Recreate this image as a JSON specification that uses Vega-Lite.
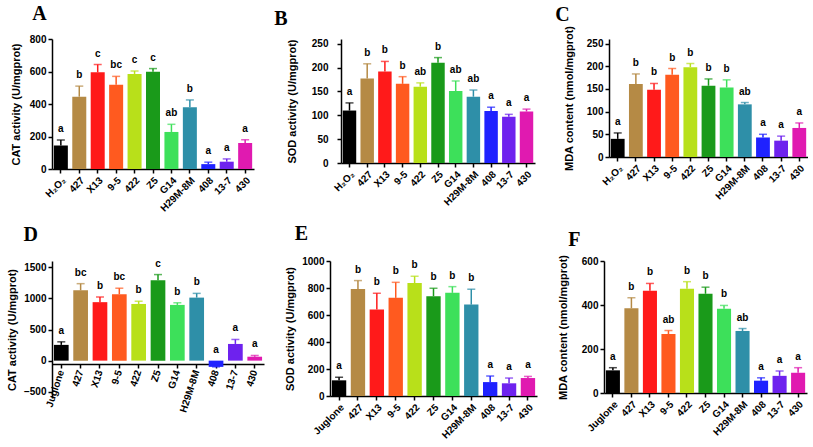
{
"$schema":"https://vega.github.io/schema/vega-lite/v6.json",
"padding":{"left":6,"top":4,"right":0,"bottom":0},
"background":"white",
"data":{"values":[
{"panel":"A","group":"H₂O₂","value":145,"hi":178,"letter":"a"},
{"panel":"A","group":"427","value":445,"hi":510,"letter":"b"},
{"panel":"A","group":"X13","value":595,"hi":643,"letter":"c"},
{"panel":"A","group":"9-5","value":518,"hi":570,"letter":"bc"},
{"panel":"A","group":"422","value":585,"hi":603,"letter":"c"},
{"panel":"A","group":"Z5","value":598,"hi":618,"letter":"c"},
{"panel":"A","group":"G14","value":228,"hi":275,"letter":"ab"},
{"panel":"A","group":"H29M-8M","value":380,"hi":425,"letter":"b"},
{"panel":"A","group":"408","value":30,"hi":42,"letter":"a"},
{"panel":"A","group":"13-7","value":45,"hi":62,"letter":"a"},
{"panel":"A","group":"430","value":160,"hi":180,"letter":"a"},
{"panel":"B","group":"H₂O₂","value":110,"hi":126,"letter":"a"},
{"panel":"B","group":"427","value":177,"hi":208,"letter":"b"},
{"panel":"B","group":"X13","value":192,"hi":213,"letter":"b"},
{"panel":"B","group":"9-5","value":166,"hi":181,"letter":"b"},
{"panel":"B","group":"422","value":160,"hi":168,"letter":"ab"},
{"panel":"B","group":"Z5","value":210,"hi":221,"letter":"b"},
{"panel":"B","group":"G14","value":151,"hi":172,"letter":"ab"},
{"panel":"B","group":"H29M-8M","value":139,"hi":153,"letter":"ab"},
{"panel":"B","group":"408","value":109,"hi":117,"letter":"a"},
{"panel":"B","group":"13-7","value":97,"hi":102,"letter":"a"},
{"panel":"B","group":"430","value":108,"hi":113,"letter":"a"},
{"panel":"C","group":"H₂O₂","value":40,"hi":53,"letter":"a"},
{"panel":"C","group":"427","value":161,"hi":183,"letter":"b"},
{"panel":"C","group":"X13","value":148,"hi":162,"letter":"b"},
{"panel":"C","group":"9-5","value":181,"hi":195,"letter":"b"},
{"panel":"C","group":"422","value":198,"hi":206,"letter":"b"},
{"panel":"C","group":"Z5","value":157,"hi":172,"letter":"b"},
{"panel":"C","group":"G14","value":153,"hi":170,"letter":"b"},
{"panel":"C","group":"H29M-8M","value":116,"hi":120,"letter":"ab"},
{"panel":"C","group":"408","value":43,"hi":50,"letter":"a"},
{"panel":"C","group":"13-7","value":36,"hi":46,"letter":"a"},
{"panel":"C","group":"430","value":64,"hi":75,"letter":"a"},
{"panel":"D","group":"Juglone","value":253,"hi":302,"letter":"a"},
{"panel":"D","group":"427","value":1129,"hi":1236,"letter":"bc"},
{"panel":"D","group":"X13","value":939,"hi":1022,"letter":"b"},
{"panel":"D","group":"9-5","value":1066,"hi":1163,"letter":"bc"},
{"panel":"D","group":"422","value":910,"hi":954,"letter":"b"},
{"panel":"D","group":"Z5","value":1290,"hi":1382,"letter":"c"},
{"panel":"D","group":"G14","value":895,"hi":929,"letter":"b"},
{"panel":"D","group":"H29M-8M","value":1012,"hi":1080,"letter":"b"},
{"panel":"D","group":"408","value":-100,"hi":-100,"letter":"a"},
{"panel":"D","group":"13-7","value":268,"hi":340,"letter":"a"},
{"panel":"D","group":"430","value":63,"hi":83,"letter":"a"},
{"panel":"E","group":"Juglone","value":116,"hi":138,"letter":"a"},
{"panel":"E","group":"427","value":793,"hi":855,"letter":"b"},
{"panel":"E","group":"X13","value":640,"hi":761,"letter":"b"},
{"panel":"E","group":"9-5","value":727,"hi":842,"letter":"b"},
{"panel":"E","group":"422","value":837,"hi":887,"letter":"b"},
{"panel":"E","group":"Z5","value":739,"hi":798,"letter":"b"},
{"panel":"E","group":"G14","value":764,"hi":810,"letter":"b"},
{"panel":"E","group":"H29M-8M","value":677,"hi":791,"letter":"b"},
{"panel":"E","group":"408","value":103,"hi":148,"letter":"a"},
{"panel":"E","group":"13-7","value":94,"hi":133,"letter":"a"},
{"panel":"E","group":"430","value":133,"hi":145,"letter":"a"},
{"panel":"F","group":"Juglone","value":103,"hi":115,"letter":"a"},
{"panel":"F","group":"427","value":385,"hi":433,"letter":"b"},
{"panel":"F","group":"X13","value":465,"hi":498,"letter":"b"},
{"panel":"F","group":"9-5","value":268,"hi":284,"letter":"ab"},
{"panel":"F","group":"422","value":474,"hi":506,"letter":"b"},
{"panel":"F","group":"Z5","value":451,"hi":481,"letter":"b"},
{"panel":"F","group":"G14","value":383,"hi":398,"letter":"b"},
{"panel":"F","group":"H29M-8M","value":282,"hi":293,"letter":"ab"},
{"panel":"F","group":"408","value":56,"hi":69,"letter":"a"},
{"panel":"F","group":"13-7","value":78,"hi":100,"letter":"a"},
{"panel":"F","group":"430","value":92,"hi":115,"letter":"a"}
]},
"transform":[{"calculate":"max(datum.hi, 0)","as":"lab"}],
"resolve":{"scale":{"x":"independent","y":"independent"}},
"vconcat":[
{"hconcat":[
{"width":202,"height":130,"title":{"text":"A","dx":22,"offset":10},
 "transform":[{"filter":"datum.panel==='A'"}],
 "encoding":{"x":{"field":"group","type":"nominal","sort":null,"scale":{"paddingInner":0.24,"paddingOuter":0.1},"axis":{"title":null,"labelAngle":-45}},
  "color":{"field":"group","type":"nominal","legend":null,"scale":{"domain":["H₂O₂","Juglone","427","X13","9-5","422","Z5","G14","H29M-8M","408","13-7","430"],"range":["#000000","#000000","#b58a45","#ff1a1a","#ff5a1f","#b8e01a","#1a9a1a","#3de05a","#2e8fa8","#1f22ff","#6e22ee","#e01ab0"]}}},
 "layer":[
  {"mark":{"type":"bar"},"encoding":{"y":{"field":"value","type":"quantitative","scale":{"domain":[0,800]},"axis":{"values":[0,200,400,600,800],"tickCount":5,"labelOverlap":false,"title":"CAT activity (U/mgprot)","titlePadding":8}}}},
  {"mark":{"type":"rule","strokeWidth":1.5},"encoding":{"y":{"field":"value","type":"quantitative"},"y2":{"field":"hi"}}},
  {"mark":{"type":"tick","thickness":1.5,"size":8},"encoding":{"y":{"field":"hi","type":"quantitative"}}},
  {"mark":{"type":"text","baseline":"bottom","dy":-6,"font":"Liberation Sans","fontWeight":"bold","fontSize":10},"encoding":{"y":{"field":"lab","type":"quantitative"},"text":{"field":"letter"},"color":{"value":"#000"}}}
 ]},
{"width":194,"height":124,"title":{"text":"B","dx":-12,"offset":10},
 "transform":[{"filter":"datum.panel==='B'"}],
 "encoding":{"x":{"field":"group","type":"nominal","sort":null,"scale":{"paddingInner":0.24,"paddingOuter":0.1},"axis":{"title":null,"labelAngle":-45}},
  "color":{"field":"group","type":"nominal","legend":null}},
 "layer":[
  {"mark":{"type":"bar"},"encoding":{"y":{"field":"value","type":"quantitative","scale":{"domain":[0,250]},"axis":{"values":[0,50,100,150,200,250],"tickCount":6,"labelOverlap":false,"title":"SOD activity (U/mgprot)","titlePadding":14,"labelPadding":9}}}},
  {"mark":{"type":"rule","strokeWidth":1.5},"encoding":{"y":{"field":"value","type":"quantitative"},"y2":{"field":"hi"}}},
  {"mark":{"type":"tick","thickness":1.5,"size":8},"encoding":{"y":{"field":"hi","type":"quantitative"}}},
  {"mark":{"type":"text","baseline":"bottom","dy":-6,"font":"Liberation Sans","fontWeight":"bold","fontSize":10},"encoding":{"y":{"field":"lab","type":"quantitative"},"text":{"field":"letter"},"color":{"value":"#000"}}}
 ]},
{"width":199,"height":118,"title":{"text":"C","dx":-8,"offset":0},
 "transform":[{"filter":"datum.panel==='C'"}],
 "encoding":{"x":{"field":"group","type":"nominal","sort":null,"scale":{"paddingInner":0.24,"paddingOuter":0.1},"axis":{"title":null,"labelAngle":-45}},
  "color":{"field":"group","type":"nominal","legend":null}},
 "layer":[
  {"mark":{"type":"bar"},"encoding":{"y":{"field":"value","type":"quantitative","scale":{"domain":[0,250]},"axis":{"values":[0,50,100,150,200,250],"tickCount":6,"labelOverlap":false,"title":"MDA content (nmol/mgprot)","titlePadding":12}}}},
  {"mark":{"type":"rule","strokeWidth":1.5},"encoding":{"y":{"field":"value","type":"quantitative"},"y2":{"field":"hi"}}},
  {"mark":{"type":"tick","thickness":1.5,"size":8},"encoding":{"y":{"field":"hi","type":"quantitative"}}},
  {"mark":{"type":"text","baseline":"bottom","dy":-6,"font":"Liberation Sans","fontWeight":"bold","fontSize":10},"encoding":{"y":{"field":"lab","type":"quantitative"},"text":{"field":"letter"},"color":{"value":"#000"}}}
 ]}
],"spacing":[36,37]},
{"hconcat":[
{"width":212,"height":137,"title":{"text":"D","dx":17,"offset":14},
 "transform":[{"filter":"datum.panel==='D'"}],
 "encoding":{"x":{"field":"group","type":"nominal","sort":null,"scale":{"paddingInner":0.24,"paddingOuter":0.1},"axis":{"title":null,"labelAngle":-72,"offset":-34}},
  "color":{"field":"group","type":"nominal","legend":null}},
 "layer":[
  {"mark":{"type":"bar"},"encoding":{"y":{"field":"value","type":"quantitative","scale":{"domain":[-500,1500]},"axis":{"values":[-500,0,500,1000,1500],"tickCount":5,"labelOverlap":false,"title":"CAT activity (U/mgprot)","titlePadding":6}}}},
  {"mark":{"type":"rule","strokeWidth":1.5},"encoding":{"y":{"field":"value","type":"quantitative"},"y2":{"field":"hi"}}},
  {"mark":{"type":"tick","thickness":1.5,"size":8},"encoding":{"y":{"field":"hi","type":"quantitative"}}},
  {"mark":{"type":"text","baseline":"bottom","dy":-6,"font":"Liberation Sans","fontWeight":"bold","fontSize":10},"encoding":{"y":{"field":"lab","type":"quantitative"},"text":{"field":"letter"},"color":{"value":"#000"}}}
 ]},
{"width":207,"height":135,"title":{"text":"E","dx":10,"offset":12},
 "transform":[{"filter":"datum.panel==='E'"}],
 "encoding":{"x":{"field":"group","type":"nominal","sort":null,"scale":{"paddingInner":0.24,"paddingOuter":0.1},"axis":{"title":null,"labelAngle":-45}},
  "color":{"field":"group","type":"nominal","legend":null}},
 "layer":[
  {"mark":{"type":"bar"},"encoding":{"y":{"field":"value","type":"quantitative","scale":{"domain":[0,1000]},"axis":{"values":[0,200,400,600,800,1000],"tickCount":6,"labelOverlap":false,"title":"SOD activity (U/mgprot)","titlePadding":6}}}},
  {"mark":{"type":"rule","strokeWidth":1.5},"encoding":{"y":{"field":"value","type":"quantitative"},"y2":{"field":"hi"}}},
  {"mark":{"type":"tick","thickness":1.5,"size":8},"encoding":{"y":{"field":"hi","type":"quantitative"}}},
  {"mark":{"type":"text","baseline":"bottom","dy":-6,"font":"Liberation Sans","fontWeight":"bold","fontSize":10},"encoding":{"y":{"field":"lab","type":"quantitative"},"text":{"field":"letter"},"color":{"value":"#000"}}}
 ]},
{"width":203,"height":132,"title":{"text":"F","dx":11,"offset":4},
 "transform":[{"filter":"datum.panel==='F'"}],
 "encoding":{"x":{"field":"group","type":"nominal","sort":null,"scale":{"paddingInner":0.24,"paddingOuter":0.1},"axis":{"title":null,"labelAngle":-45}},
  "color":{"field":"group","type":"nominal","legend":null}},
 "layer":[
  {"mark":{"type":"bar"},"encoding":{"y":{"field":"value","type":"quantitative","scale":{"domain":[0,600]},"axis":{"values":[0,200,400,600],"tickCount":4,"labelOverlap":false,"title":"MDA content (nmol/mgprot)","titlePadding":13}}}},
  {"mark":{"type":"rule","strokeWidth":1.5},"encoding":{"y":{"field":"value","type":"quantitative"},"y2":{"field":"hi"}}},
  {"mark":{"type":"tick","thickness":1.5,"size":8},"encoding":{"y":{"field":"hi","type":"quantitative"}}},
  {"mark":{"type":"text","baseline":"bottom","dy":-6,"font":"Liberation Sans","fontWeight":"bold","fontSize":10},"encoding":{"y":{"field":"lab","type":"quantitative"},"text":{"field":"letter"},"color":{"value":"#000"}}}
 ]}
],"spacing":[22,43]}
],
"spacing":10,
"config":{
 "view":{"stroke":null},
 "axis":{"labelFont":"Liberation Sans","labelFontWeight":"bold","labelFontSize":10,"labelColor":"#000","titleFont":"Liberation Sans","titleFontWeight":"bold","titleFontSize":11,"titleColor":"#000","domainColor":"#000","domainWidth":1.5,"tickColor":"#000","tickWidth":1.5,"tickSize":4,"grid":false,"labelPadding":2},
 "axisY":{"labelOverlap":false,"format":"d"},
 "title":{"font":"Liberation Serif","fontSize":20,"fontWeight":"bold","anchor":"start","frame":"bounds","color":"#000"}
}
}
